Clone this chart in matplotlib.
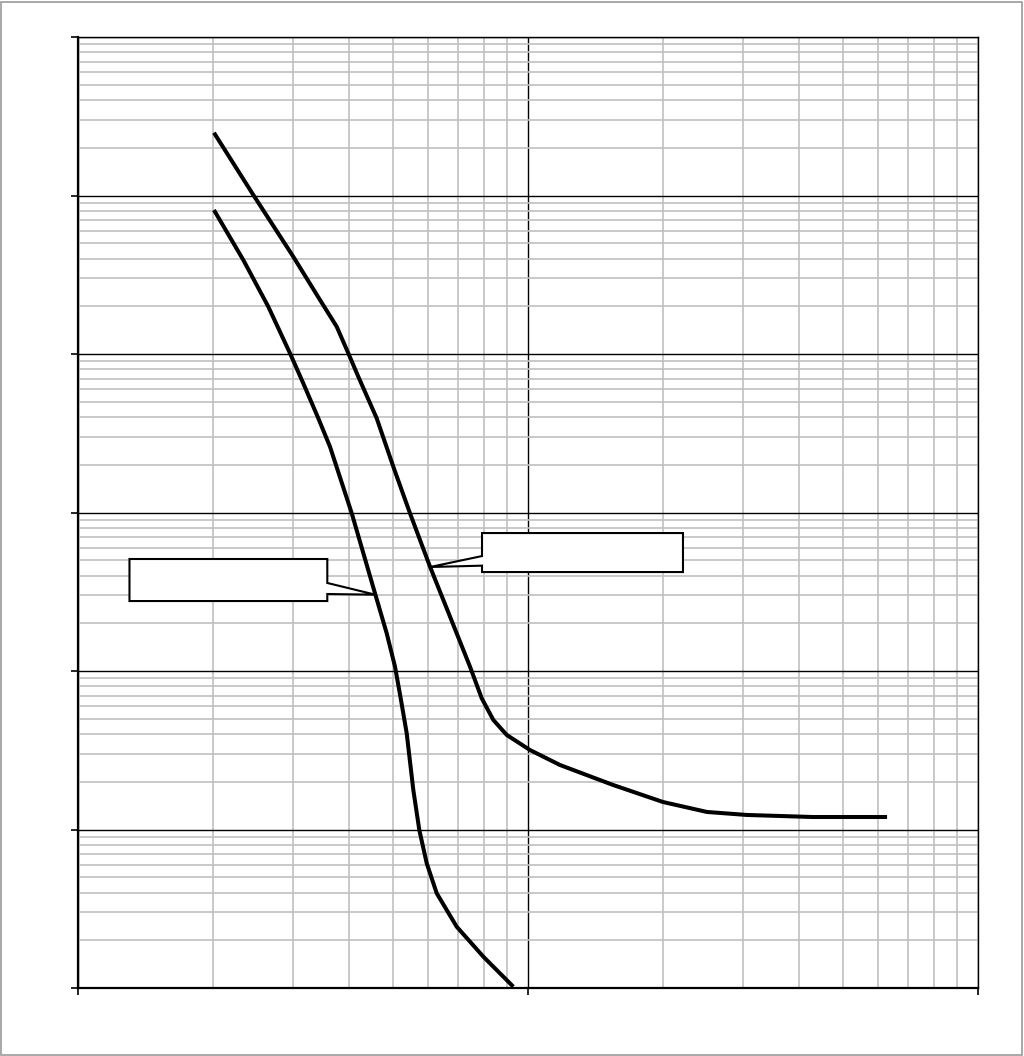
import numpy as np
import matplotlib
matplotlib.use("Agg")
import matplotlib.pyplot as plt
from matplotlib.patches import Polygon, Rectangle
from matplotlib.ticker import LogLocator, NullFormatter


# ==================================================
# data (log-log)
# ==================================================

upper_x = [2.005, 2.453, 3.009, 3.451, 3.758, 3.988, 4.197, 4.611, 5.020,
           5.467, 6.057, 6.711, 7.433, 7.891, 8.374, 8.968, 10.10, 11.78,
           15.45, 19.95, 24.99, 30.67, 42.99, 62.79]
upper_y = [2490, 1007, 411, 219, 148.7, 101.0, 71.9, 39.3, 19.45,
           9.89, 4.55, 2.20, 1.064, 0.673, 0.491, 0.395, 0.3174, 0.2552,
           0.1910, 0.1491, 0.1290, 0.1235, 0.1199, 0.1199]

lower_x = [2.005, 2.330, 2.648, 2.959, 3.167, 3.420, 3.631, 4.058, 4.571,
           4.853, 5.064, 5.213, 5.376, 5.561, 5.734, 5.956, 6.268, 6.943,
           7.958, 9.276]
lower_y = [810, 391.8, 198.8, 101.0, 65.3, 39.3, 26.0, 9.89, 3.09,
           1.729, 1.064, 0.673, 0.4045, 0.1775, 0.0993, 0.0612, 0.0396,
           0.02436, 0.01576, 0.01019]

x_lim = (1, 100)
y_lim = (0.01, 10000)

# callout tips (points on the curves)
tip_lower = (4.58, 3.03)
tip_upper = (6.06, 4.53)


def callout(ax, box, base, tip, side):
    # box = (x0, y0, x1, y1) axes fraction, base = (ya, yb) where the wedge leaves
    tx, ty = ax.transAxes.inverted().transform(ax.transData.transform(tip))
    x0, y0, x1, y1 = box
    if side == "right":
        pts = [(x0, y0), (x1, y0), (x1, base[1]), (tx, ty), (x1, base[0]),
               (x1, y1), (x0, y1)]
    else:
        pts = [(x0, y0), (x1, y0), (x1, y1), (x0, y1), (x0, base[0]),
               (tx, ty), (x0, base[1])]
    ax.add_patch(Polygon(pts, closed=True, transform=ax.transAxes,
                         facecolor="white", edgecolor="black", lw=1.5,
                         zorder=5, clip_on=False))


fig = plt.figure(figsize=(10.24, 10.56), dpi=100)
fig.patches.append(Rectangle((0.001, 0.001), 0.997, 0.997,
                             transform=fig.transFigure, fill=False,
                             edgecolor="#999999", lw=1.2))

ax = fig.add_axes([78/1024, 68/1056, 900/1024, 951/1056])
ax.set_xscale("log")
ax.set_yscale("log")
ax.set_xlim(*x_lim)
ax.set_ylim(*y_lim)

ax.xaxis.set_major_locator(LogLocator(base=10, numticks=10))
ax.yaxis.set_major_locator(LogLocator(base=10, numticks=10))
ax.xaxis.set_minor_locator(LogLocator(base=10, subs=np.arange(2, 10), numticks=20))
ax.yaxis.set_minor_locator(LogLocator(base=10, subs=np.arange(2, 10), numticks=20))
ax.xaxis.set_major_formatter(NullFormatter())
ax.yaxis.set_major_formatter(NullFormatter())
ax.xaxis.set_minor_formatter(NullFormatter())
ax.yaxis.set_minor_formatter(NullFormatter())

ax.grid(True, which="minor", color="#c0c0c0", lw=1.2)
ax.grid(True, which="major", color="black", lw=1.0)
ax.set_axisbelow(True)

ax.tick_params(which="major", direction="out", length=5, width=1.2,
               left=True, bottom=True, top=False, right=False)
ax.tick_params(which="minor", length=0)

for s in ["top", "right"]:
    ax.spines[s].set_linewidth(1.0)
for s in ["left", "bottom"]:
    ax.spines[s].set_linewidth(1.6)

ax.plot(upper_x, upper_y, color="black", lw=2.9, solid_joinstyle="round",
        solid_capstyle="butt", zorder=4)
ax.plot(lower_x, lower_y, color="black", lw=2.9, solid_joinstyle="round",
        solid_capstyle="butt", zorder=4)

callout(ax, (0.0572, 0.4069, 0.2770, 0.4511), (0.4259, 0.4143), tip_lower, "right")
callout(ax, (0.4489, 0.4374, 0.6722, 0.4784), (0.4542, 0.4441), tip_upper, "left")

fig.savefig("out.png", dpi=100)
